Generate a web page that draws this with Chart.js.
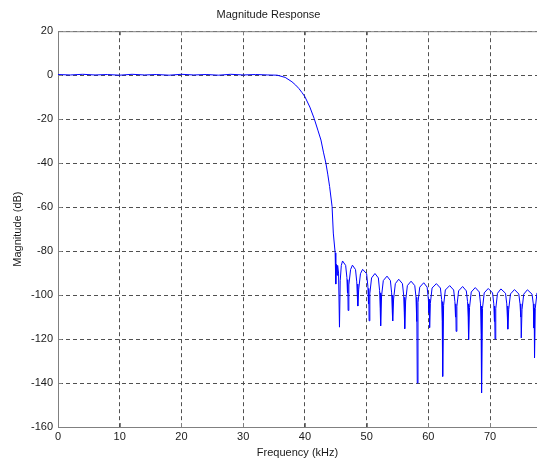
<!DOCTYPE html>
<html>
<head>
<meta charset="utf-8">
<title>Magnitude Response</title>
<script src="https://cdn.jsdelivr.net/npm/chart.js@4.4.1/dist/chart.umd.min.js"></script>
<style>
    html, body { margin: 0; padding: 0; background: #ffffff; overflow: hidden; }
    #magChart { display: block; }
</style>
</head>
<body>
<canvas id="magChart" width="537" height="462"></canvas>
<script>
// Frequency points (kHz)
const freqKHz = [
    // passband and transition
    0, 2, 4, 6, 8, 10, 12, 14, 16, 18, 20, 22, 24, 26, 28, 30, 32, 34, 35.5,
    36.8, 37.9, 38.5, 39.0, 39.5, 40.0, 40.8, 41.5, 42.1, 42.6, 43.0, 43.4, 43.7,
    44.0, 44.4, 44.6, 44.9, 45.0, 45.1, 45.2, 45.3, 45.45,
    // stopband lobes (null, rise, peak, fall, double null)
    45.6, 45.72, 45.9, 46.1, 46.6, 46.8, 46.9, 46.94,
    47.0, 47.12, 47.4, 47.7, 48.2, 48.4, 48.5, 48.54,
    48.6, 48.72, 49.0, 49.35, 50.0, 50.2, 50.3, 50.34,
    50.4, 50.52, 50.8, 51.35, 51.9, 52.1, 52.2, 52.24,
    52.3, 52.42, 52.7, 53.3, 53.85, 54.05, 54.15, 54.19,
    54.25, 54.37, 54.65, 55.2, 55.8, 56.0, 56.1, 56.14,
    56.2, 56.32, 56.6, 57.2, 57.8, 58.0, 58.1, 58.14,
    58.2, 58.32, 58.6, 59.25, 59.8, 60.0, 60.1, 60.14,
    60.2, 60.32, 60.6, 61.3, 61.95, 62.15, 62.25, 62.29,
    62.35, 62.47, 62.75, 63.45, 64.1, 64.3, 64.4, 64.44,
    64.5, 64.62, 64.9, 65.55, 66.15, 66.35, 66.45, 66.49,
    66.55, 66.67, 66.95, 67.6, 68.25, 68.45, 68.55, 68.59,
    68.65, 68.77, 69.05, 69.7, 70.4, 70.6, 70.7, 70.74,
    70.8, 70.92, 71.2, 71.75, 72.5, 72.7, 72.8, 72.84,
    72.9, 73.02, 73.3, 73.95, 74.65, 74.85, 74.95, 74.99,
    75.05, 75.17, 75.45, 76.05, 76.8, 77.0, 77.1, 77.14,
    77.2, 77.32, 77.6
];

// Magnitude (dB) at each frequency point
const magDb = [
    0.3, 0.1, 0.4, 0.1, 0.3, 0.0, 0.4, 0.1, 0.3, 0.0, 0.4, 0.1, 0.3, 0.0, 0.4, 0.1, 0.3, 0.1, 0.0,
    -1.0, -3.0, -4.5, -6.0, -7.8, -9.8, -14.5, -19.7, -25.0, -29.5, -35.0, -40.0, -45.0,
    -50.6, -59.7, -71.8, -80.8, -95.0, -86.0, -91.0, -86.5, -90.0,
    -114.6, -93.5, -86.5, -84.5, -86.5, -92.0, -99.0, -93.0,
    -107.0, -95.4, -88.4, -86.4, -88.4, -94.0, -101.0, -95.0,
    -105.0, -97.3, -90.3, -88.3, -90.3, -96.0, -104.0, -97.0,
    -111.7, -99.2, -92.2, -90.2, -92.2, -98.0, -106.0, -99.0,
    -114.0, -100.4, -93.4, -91.4, -93.4, -99.0, -107.0, -100.0,
    -111.8, -101.8, -94.8, -92.8, -94.8, -100.0, -108.0, -101.0,
    -115.3, -102.7, -95.7, -93.7, -95.7, -101.0, -112.0, -102.0,
    -140.0, -103.4, -96.4, -94.4, -96.4, -102.0, -108.0, -102.0,
    -114.8, -103.8, -96.8, -94.8, -96.8, -102.0, -112.0, -103.0,
    -137.0, -104.7, -97.7, -95.7, -97.7, -103.0, -110.0, -104.0,
    -116.5, -105.1, -98.1, -96.1, -98.1, -103.0, -110.0, -104.0,
    -120.3, -105.6, -98.6, -96.6, -98.6, -104.0, -118.0, -105.0,
    -144.5, -106.0, -99.0, -97.0, -99.0, -104.0, -112.0, -105.0,
    -120.0, -106.2, -99.2, -97.2, -99.2, -104.0, -110.0, -105.0,
    -115.5, -106.5, -99.5, -97.5, -99.5, -104.0, -110.0, -105.0,
    -119.5, -106.6, -99.6, -97.6, -99.6, -104.0, -115.0, -106.0,
    -128.5, -106.0, -99.0
];

// Axis ticks
const xTicks = [0, 10, 20, 30, 40, 50, 60, 70];
const yTicks = [20, 0, -20, -40, -60, -80, -100, -120, -140, -160];
const xMax = 77.6;

const points = freqKHz.map((f, i) => ({ x: f, y: magDb[i] }));

const fontFamily = '"Liberation Sans", Arial, sans-serif';
const textColor = '#1a1a1a';
const axisColor = '#808080';
const gridColor = '#505050';

// MATLAB-style box: solid top line plus short inward tick marks
const axesBox = {
    id: 'axesBox',
    afterDraw(chart) {
        const { ctx, chartArea, scales } = chart;
        ctx.save();
        ctx.strokeStyle = axisColor;
        ctx.lineWidth = 1;
        ctx.beginPath();
        ctx.moveTo(chartArea.left, chartArea.top + 0.5);
        ctx.lineTo(chartArea.right, chartArea.top + 0.5);
        // ticks along top and bottom
        xTicks.forEach(v => {
            const px = Math.round(scales.x.getPixelForValue(v)) + 0.5;
            ctx.moveTo(px, chartArea.top);
            ctx.lineTo(px, chartArea.top + 4);
            ctx.moveTo(px, chartArea.bottom);
            ctx.lineTo(px, chartArea.bottom - 4);
        });
        // ticks along the left side
        yTicks.forEach(v => {
            const py = Math.round(scales.y.getPixelForValue(v)) + 0.5;
            ctx.moveTo(chartArea.left, py);
            ctx.lineTo(chartArea.left + 4, py);
        });
        ctx.stroke();
        ctx.restore();
    }
};

const ctx = document.getElementById('magChart').getContext('2d');
new Chart(ctx, {
    type: 'line',
    data: {
        datasets: [{
            data: points,
            borderColor: '#0000ff',
            borderWidth: 1,
            pointRadius: 0,
            tension: 0,
            fill: false
        }]
    },
    options: {
        responsive: false,
        animation: false,
        events: [],
        layout: { padding: { top: 0, right: 0, bottom: 0, left: 0 } },
        plugins: {
            legend: { display: false },
            tooltip: { enabled: false },
            title: {
                display: true,
                text: 'Magnitude Response',
                color: textColor,
                font: { family: fontFamily, size: 11, weight: 'normal' },
                padding: { top: 8, bottom: 10 }
            }
        },
        scales: {
            x: {
                type: 'linear',
                min: 0,
                max: xMax,
                afterBuildTicks: scale => { scale.ticks = xTicks.map(v => ({ value: v })); },
                afterFit: scale => { scale.height = 35; },
                ticks: {
                    color: textColor,
                    font: { family: fontFamily, size: 11 },
                    padding: 3,
                    maxRotation: 0
                },
                grid: { color: gridColor, drawTicks: false, lineWidth: 1 },
                border: { display: true, color: axisColor, dash: [4, 3] },
                title: {
                    display: true,
                    text: 'Frequency (kHz)',
                    color: textColor,
                    font: { family: fontFamily, size: 11 },
                    padding: { top: 0, bottom: 2 }
                }
            },
            y: {
                type: 'linear',
                min: -160,
                max: 20,
                afterBuildTicks: scale => { scale.ticks = yTicks.map(v => ({ value: v })); },
                afterFit: scale => { scale.width = 58; },
                ticks: {
                    color: textColor,
                    font: { family: fontFamily, size: 11 },
                    padding: 5
                },
                grid: { color: gridColor, drawTicks: false, lineWidth: 1 },
                border: { display: true, color: axisColor, dash: [4, 3] },
                title: {
                    display: true,
                    text: 'Magnitude (dB)',
                    color: textColor,
                    font: { family: fontFamily, size: 11 },
                    padding: { top: 11, bottom: 0 }
                }
            }
        }
    },
    plugins: [axesBox]
});
</script>
</body>
</html>
